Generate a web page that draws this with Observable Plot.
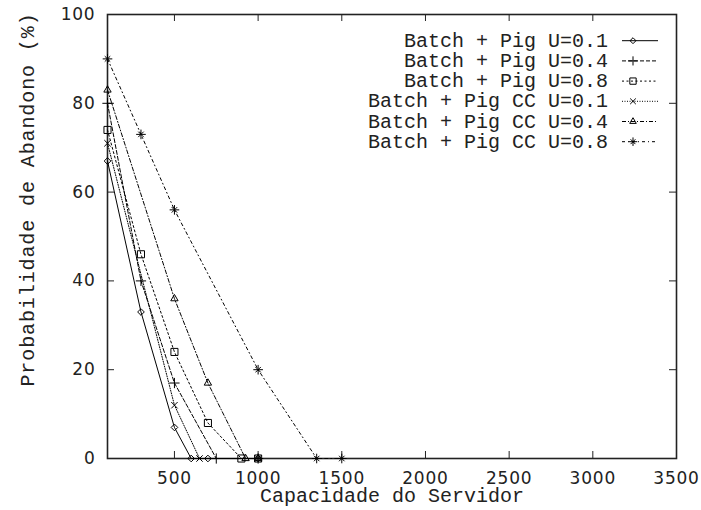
<!DOCTYPE html>
<html><head><meta charset="utf-8">
<script src="https://cdn.jsdelivr.net/npm/d3@7"></script>
<script src="https://cdn.jsdelivr.net/npm/@observablehq/plot@0.6"></script>
<style>
body{margin:0;background:#fff}
#chart{width:701px;height:510px}
g[aria-label="x-axis tick label"] text, g[aria-label="y-axis tick label"] text{letter-spacing:0.8px}
</style>
</head><body><div id="chart"></div>
<script>
// ---- data ----
const seriesNames = [
  "Batch + Pig U=0.1",
  "Batch + Pig U=0.4",
  "Batch + Pig U=0.8",
  "Batch + Pig CC U=0.1",
  "Batch + Pig CC U=0.4",
  "Batch + Pig CC U=0.8"
];
const pig01X = [100, 300, 500, 600, 700, 1000];
const pig01Y = [67, 33, 7, 0, 0, 0];
const pig04X = [100, 300, 500, 750, 1000];
const pig04Y = [80, 40, 17, 0, 0];
const pig08X = [100, 300, 500, 700, 900, 1000];
const pig08Y = [74, 46, 24, 8, 0, 0];
const cc01X = [100, 500, 650, 1000];
const cc01Y = [71, 12, 0, 0];
const cc04X = [100, 500, 700, 925, 1000];
const cc04Y = [83, 36, 17, 0, 0];
const cc08X = [100, 300, 500, 1000, 1350, 1500];
const cc08Y = [90, 73, 56, 20, 0, 0];

const xTickLabels = [500, 1000, 1500, 2000, 2500, 3000, 3500];
const xTickMarks = [500, 1000, 1500, 2000, 2500, 3000];
const yTickLabels = [0, 20, 40, 60, 80, 100];
const yTickMarks = [20, 40, 60, 80];
const xLabel = "Capacidade do Servidor";
const yLabel = "Probabilidade de Abandono (%)";

// ---- styles ----
const mono = "Liberation Mono, Courier New, monospace";
const sans = "DejaVu Sans, sans-serif";
const ink = "#222";
const W = 701, H = 510, mL = 107, mR = 25, mT = 14, mB = 52;
const fw = W - mL - mR, fh = H - mT - mB;
const tick = 7;

const xs = [pig01X, pig04X, pig08X, cc01X, cc04X, cc08X];
const ys = [pig01Y, pig04Y, pig08Y, cc01Y, cc04Y, cc08Y];
const dashes = [null, "4,2", "2,2.5", "1,1.5", "4,2,1,2", "3,3,1,3"];
const symbols = [
  [["diamond2", 3]],
  [["plus", 3.4]],
  [["square2", 4.5]],
  [["times", 3]],
  [["triangle2", 3.5]],
  [["plus", 3.2], ["times", 2.6]]
];
const d3sym = {diamond2: d3.symbolDiamond2, plus: d3.symbolPlus, square2: d3.symbolSquare2, times: d3.symbolTimes, triangle2: d3.symbolTriangle2};

const series = seriesNames.map((name, i) => xs[i].map((x, j) => ({name, x, y: ys[i][j]})));

const marks = [
  Plot.frame({stroke: ink, strokeWidth: 1.6}),
  Plot.ruleX(xTickMarks, {x: d => d, insetTop: fh - tick, stroke: ink}),
  Plot.ruleX(xTickMarks, {x: d => d, insetBottom: fh - tick, stroke: ink}),
  Plot.ruleY(yTickMarks, {y: d => d, insetRight: fw - tick, stroke: ink}),
  Plot.ruleY(yTickMarks, {y: d => d, insetLeft: fw - tick, stroke: ink}),
  Plot.axisX(xTickLabels, {tickSize: 0, tickPadding: 13, label: null, tickFormat: d => String(d), fontSize: 17, fontFamily: sans, fill: ink}),
  Plot.axisY(yTickLabels, {tickSize: 0, tickPadding: 12, label: null, tickFormat: d => String(d), fontSize: 17, fontFamily: sans, fill: ink}),
  Plot.text([xLabel], {text: d => d, frameAnchor: "bottom", textAnchor: "middle", dy: 37.5, lineAnchor: "middle", fontFamily: mono, fontSize: 20, fill: ink}),
  Plot.text([yLabel], {text: d => d, frameAnchor: "left", textAnchor: "middle", rotate: -90, dx: -80, dy: -37, lineAnchor: "middle", fontFamily: mono, fontSize: 20, fill: ink})
];
series.forEach((data, i) => {
  marks.push(Plot.line(data, {x: "x", y: "y", stroke: "#000", strokeWidth: 1, strokeDasharray: dashes[i]}));
  symbols[i].forEach(([s, r]) => marks.push(Plot.dot(data, {x: "x", y: "y", symbol: s, r, stroke: "#000", strokeWidth: 1, fill: "none"})));
});

const chart = Plot.plot({
  width: W, height: H,
  marginLeft: mL, marginRight: mR, marginTop: mT, marginBottom: mB,
  x: {type: "linear", domain: [100, 3500]},
  y: {type: "linear", domain: [0, 100]},
  style: {background: "#fff", color: ink, fontFamily: sans, overflow: "visible"},
  marks
});
document.getElementById("chart").appendChild(chart);

// y label spacing slightly wider, as in the reference
d3.select(chart).selectAll("text").filter(function() { return this.textContent === yLabel; })
  .style("letter-spacing", "0.9px");

// ---- legend (top-right, inside the frame) ----
const svg = d3.select(chart);
const lg = svg.append("g").attr("aria-label", "legend");
const textRight = 608, lineX1 = 622, lineX2 = 658, symX = 633, row0 = 40.7, rowStep = 20.2;
seriesNames.forEach((name, i) => {
  const cy = row0 + i * rowStep;
  lg.append("text").attr("x", textRight).attr("y", cy + 6).attr("text-anchor", "end")
    .attr("font-family", mono).attr("font-size", 20).attr("fill", ink).text(name);
  lg.append("line").attr("x1", lineX1).attr("x2", lineX2).attr("y1", cy).attr("y2", cy)
    .attr("stroke", "#000").attr("stroke-width", 1).attr("stroke-dasharray", dashes[i]);
  symbols[i].forEach(([s, r]) => {
    lg.append("path").attr("transform", `translate(${symX},${cy})`)
      .attr("d", d3.symbol().type(d3sym[s]).size(Math.PI * r * r * 0.8)())
      .attr("fill", "none").attr("stroke", "#000").attr("stroke-width", 1);
  });
});
</script>
</body></html>
